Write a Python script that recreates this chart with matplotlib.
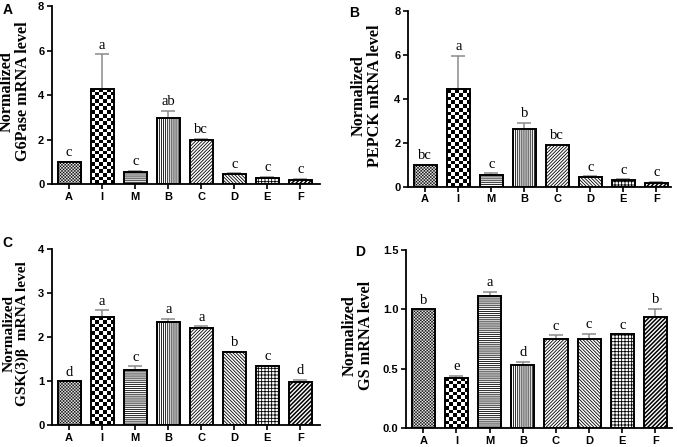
import numpy as np
import matplotlib
matplotlib.use('Agg')
import matplotlib.pyplot as plt

### Data
groups = ['A', 'I', 'M', 'B', 'C', 'D', 'E', 'F']

g6pase = [1.00, 4.28, 0.55, 2.98, 1.97, 0.45, 0.28, 0.20]
g6pase_err = [0.00, 1.56, 0.05, 0.33, 0.06, 0.04, 0.05, 0.05]
g6pase_sig = ['c', 'a', 'c', 'ab', 'bc', 'c', 'c', 'c']

pepck = [1.00, 4.45, 0.56, 2.62, 1.89, 0.43, 0.29, 0.17]
pepck_err = [0.00, 1.50, 0.06, 0.28, 0.02, 0.05, 0.06, 0.06]
pepck_sig = ['bc', 'a', 'c', 'b', 'bc', 'c', 'c', 'c']

gsk3b = [1.00, 2.46, 1.25, 2.34, 2.20, 1.65, 1.34, 0.99]
gsk3b_err = [0.00, 0.15, 0.09, 0.08, 0.04, 0.02, 0.01, 0.04]
gsk3b_sig = ['d', 'a', 'c', 'a', 'a', 'b', 'c', 'd']

gs = [1.00, 0.423, 1.116, 0.527, 0.747, 0.753, 0.789, 0.939]
gs_err = [0.00, 0.017, 0.034, 0.031, 0.034, 0.042, 0.00, 0.065]
gs_sig = ['b', 'e', 'a', 'd', 'c', 'c', 'c', 'b']

# fill style per group: ('check', square px) or hatch string
fills = [('check', 1.5), ('check', 3.7), '-' * 8, '|' * 8, '/' * 10, '\\' * 10, '+' * 5, '/' * 8]

plt.rcParams['hatch.linewidth'] = 0.6
sans = 'Liberation Sans'
serif = 'Liberation Serif'


def checker_fill(ax, bar, sq):
    x0 = bar.get_x() ; w = bar.get_width() ; h = bar.get_height()
    (px0, py0), (px1, py1) = ax.transData.transform([(x0, 0), (x0 + w, h)])
    nc = max(1, int(round((px1 - px0) / sq)))
    nr = max(1, int(round((py1 - py0) / sq)))
    img = np.indices((nr, nc)).sum(axis=0) % 2
    interp = 'nearest' if sq > 2 else 'antialiased'
    im = ax.imshow(img, cmap='gray', extent=(x0, x0 + w, 0, h), aspect='auto',
                   interpolation=interp, zorder=1.5)
    im.set_clip_path(bar)


def panel(rect, vals, errs, sig, ylim, yticks, ylabel, xlim, label, lab_xy, ylab_x):
    ax = fig.add_axes(rect)
    x = np.arange(len(groups))
    ax.set_xlim(*xlim)
    ax.set_ylim(*ylim)
    ax.errorbar(x, vals, yerr=[np.zeros(len(errs)), errs], fmt='none', ecolor='#8a8a8a',
                elinewidth=1.1, capsize=5, capthick=1.1, zorder=1)
    bars = ax.bar(x, vals, width=0.7, color='white', edgecolor='black', linewidth=1.4, zorder=2)
    for b, f in zip(bars, fills):
        if isinstance(f, tuple):
            b.set_facecolor('none')
            checker_fill(ax, b, f[1])
        else:
            b.set_hatch(f)
            if f == '/' * 8 and hasattr(b, 'set_hatch_linewidth'):
                b.set_hatch_linewidth(1.1)
    ax.set_xlim(*xlim)
    ax.set_ylim(*ylim)

    for xi, v, e, s in zip(x, vals, errs, sig):
        ax.annotate(s, (xi, v + e), xytext=(0, 4), textcoords='offset points',
                    ha='center', va='baseline', fontsize=10.5, family=serif)

    ax.set_xticks(x)
    ax.set_xticklabels(groups, fontsize=8, fontweight='bold', family=sans)
    ax.set_yticks(yticks)
    ax.set_yticklabels([('%g' % t) if ylim[1] > 2 else '%.1f' % t for t in yticks],
                       fontsize=8, fontweight='bold', family=sans)
    ax.tick_params(length=3.5, width=1.2, pad=2)
    for sp in ['top', 'right']:
        ax.spines[sp].set_visible(False)
    for sp in ['left', 'bottom']:
        ax.spines[sp].set_linewidth(1.3)

    # y label: 11.7 pt, shrunk only if the long line would run past ~145 px
    yl = ax.set_ylabel(ylabel, fontsize=11.7, fontweight='bold', family=serif, linespacing=1.0)
    ext = yl.get_window_extent(renderer=fig.canvas.get_renderer())
    yl.set_fontsize(min(11.7, 11.7 * 145.0 / ext.height))
    ax.yaxis.set_label_coords(ylab_x, 0.52)
    fig.text(lab_xy[0], lab_xy[1], label, fontsize=10, fontweight='bold', family=sans,
             ha='left', va='center')
    return ax


fig = plt.figure(figsize=(6.77, 4.47), dpi=100)

panel([0.0768, 0.588, 0.396, 0.398], g6pase, g6pase_err, g6pase_sig, (0, 8), [0, 2, 4, 6, 8],
      'Normalized\nG6Pase mRNA level', (-0.52, 7.6), 'A', (0.004, 0.978), -0.078)
panel([0.6027, 0.582, 0.3885, 0.394], pepck, pepck_err, pepck_sig, (0, 8), [0, 2, 4, 6, 8],
      'Normalized\nPEPCK mRNA level', (-0.52, 7.45), 'B', (0.516, 0.97), -0.095)
panel([0.0768, 0.049, 0.396, 0.394], gsk3b, gsk3b_err, gsk3b_sig, (0, 4), [0, 1, 2, 3, 4],
      'Normalized\nGSK(3)\u03b2  mRNA level', (-0.52, 7.6), 'C', (0.004, 0.457), -0.086)
panel([0.5997, 0.0425, 0.393, 0.398], gs, gs_err, gs_sig, (0, 1.5), [0, 0.5, 1.0, 1.5],
      'Normalized\nGS mRNA level', (-0.52, 7.5), 'D', (0.524, 0.437), -0.12)

plt.savefig('out.png', dpi=100)
plt.close()
